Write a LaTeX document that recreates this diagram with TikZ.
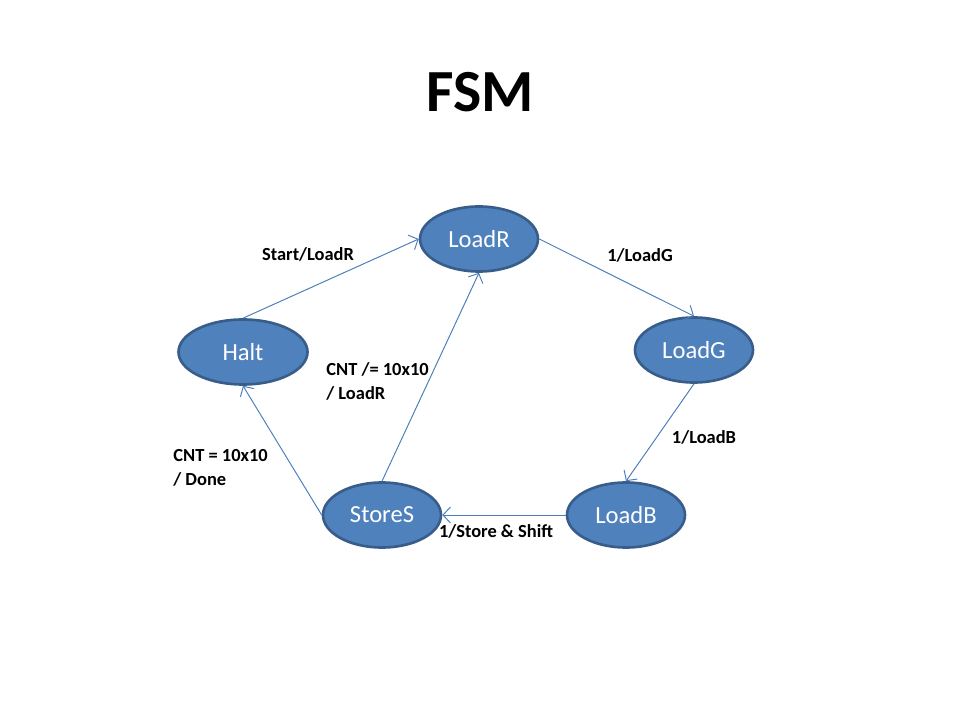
\documentclass[tikz,border=0pt]{standalone}
\usepackage{fontspec}
\setmainfont{Carlito}
\usetikzlibrary{shapes.geometric,arrows.meta}
\definecolor{statefill}{HTML}{4F81BD}
\definecolor{stateline}{HTML}{385D8A}
\definecolor{edgeblue}{HTML}{4A7EBB}
\tikzset{
  state/.style={ellipse,fill=statefill,draw=stateline,line width=1.5pt,
    minimum width=2.36cm,minimum height=1.30cm,inner sep=0pt,
    text=white,font=\fontsize{14}{16}\selectfont},
  edge/.style={draw=edgeblue,line width=0.55pt,-{Straight Barb[length=1.5mm,width=3.2mm]}},
  lbl/.style={font=\bfseries\fontsize{10.5}{13.7}\selectfont,align=left,inner sep=0pt}
}
\begin{document}
\begin{tikzpicture}
  \useasboundingbox (0,0) rectangle (19.2,14.4);
  % title
  \node[font=\bfseries\fontsize{34}{40}\selectfont] (title) at (9.6,12.56) {FSM};
  % states
  \node[state] (LoadR) at (9.58,9.62) {LoadR};
  \node[state,minimum width=2.58cm] (Halt) at (4.86,7.36) {Halt};
  \node[state] (LoadG) at (13.88,7.40) {LoadG};
  \node[state] (StoreS) at (7.64,4.10) {StoreS};
  \node[state] (LoadB) at (12.52,4.10) {LoadB};
  % transitions
  \draw[edge] (Halt.north) -- (LoadR.west);
  \draw[edge] (LoadR.east) -- (LoadG.north);
  \draw[edge] (LoadG.south) -- (LoadB.north);
  \draw[edge] (LoadB.west) -- (StoreS.east);
  \draw[edge] (StoreS.north) -- (LoadR.south);
  \draw[edge] (StoreS.west) -- (Halt.south);
  % labels
  \node[lbl] (lStart) at (6.16,9.32) {Start/LoadR};
  \node[lbl] (lLoadG) at (12.80,9.30) {1/LoadG};
  \node[lbl] (lLoadB) at (14.08,5.66) {1/LoadB};
  \node[lbl] (lStore) at (9.92,3.78) {1/Store \& Shift};
  \node[lbl,anchor=west] (lNotDone) at (6.52,6.78) {CNT /= 10x10\\/ LoadR};
  \node[lbl,anchor=west] (lDone) at (3.46,5.04) {CNT = 10x10\\/ Done};
\end{tikzpicture}
\end{document}
